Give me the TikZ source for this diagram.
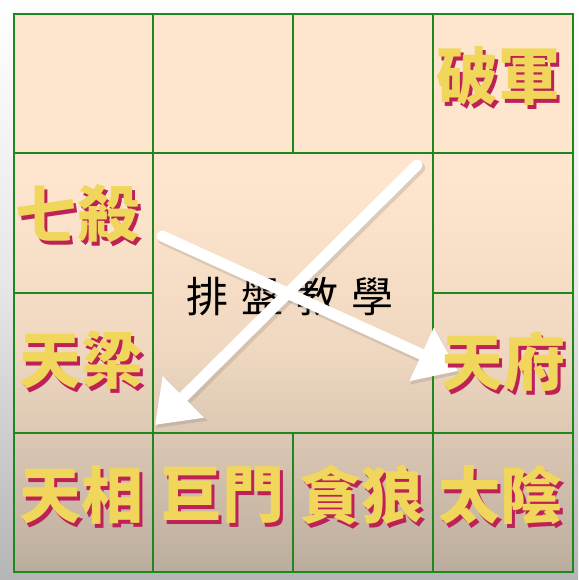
\documentclass[tikz,border=0pt]{standalone}
\usepackage{fontspec}
\newfontfamily\cjk{Noto Sans CJK TC}
\usetikzlibrary{arrows.meta}
\definecolor{gridgreen}{HTML}{1E871E}
\definecolor{bgtop}{HTML}{FDE6CD}
\definecolor{bgmid}{HTML}{F0D8C0}
\definecolor{bgbot}{HTML}{BBAD9E}
\definecolor{starY}{HTML}{F0D65A}
\definecolor{starM}{HTML}{BE2158}
\definecolor{mtop}{HTML}{FFFFFF}
\definecolor{mmid}{HTML}{E6E6E6}
\definecolor{mbot}{HTML}{B5B5B5}
\pgfdeclareverticalshading{gridbg}{100bp}{color(0bp)=(bgbot); color(25bp)=(bgbot); color(45bp)=(bgmid); color(60bp)=(bgtop); color(100bp)=(bgtop)}
\pgfdeclareverticalshading{marginbg}{100bp}{color(0bp)=(mbot); color(25bp)=(mbot); color(50bp)=(mmid); color(75bp)=(mtop); color(100bp)=(mtop)}
\tikzset{
  gridline/.style={draw=gridgreen, line width=1.8pt},
  starlabel/.style={inner sep=0pt, text=starY, font=\cjk\bfseries\fontsize{62}{62}\selectfont},
  titlelabel/.style={inner sep=0pt, text=black, font=\cjk\fontsize{42}{42}\selectfont},
  bigarrow/.style={draw=white, line width=11pt, line cap=round, -{Triangle[length=40pt,width=56pt]}},
  arrowshade/.style={draw=black!55, opacity=0.22, line width=12pt, line cap=round, -{Triangle[length=41pt,width=58pt]}, transform canvas={shift={(2pt,-3pt)}}}
}
\newcommand{\shadowtext}[1]{\rlap{\hspace*{3pt}\raisebox{-4pt}[0pt][0pt]{\textcolor{starM}{#1}}}#1}
\begin{document}
\begin{tikzpicture}[x=1pt,y=1pt]
\useasboundingbox (0,0) rectangle (578,580);
% backgrounds
\shade[shading=marginbg] (0,0) rectangle (578,580);
\shade[shading=gridbg] (14,8) rectangle (573,566);
% grid
\draw[gridline] (14,8) rectangle (573,566);
\draw[gridline] (153,8) -- (153,566);
\draw[gridline] (433,8) -- (433,566);
\draw[gridline] (14,427) -- (573,427);
\draw[gridline] (14,147) -- (573,147);
\draw[gridline] (293,566) -- (293,427);
\draw[gridline] (293,147) -- (293,8);
\draw[gridline] (14,287) -- (153,287);
\draw[gridline] (433,287) -- (573,287);
% title
\node[titlelabel] (title) at (290,283) {排\hspace{13pt}盤\hspace{13pt}教\hspace{13pt}學};
% arrows
\coordinate (a1s) at (162,344);
\coordinate (a1e) at (458,209);
\coordinate (a2s) at (417,415);
\coordinate (a2e) at (155,155);
\draw[arrowshade] (a1s) -- (a1e);
\draw[arrowshade] (a2s) -- (a2e);
\draw[bigarrow] (a1s) -- (a1e);
\draw[bigarrow] (a2s) -- (a2e);
% stars
\node[starlabel] (pojun) at (498,504) {\shadowtext{破軍}};
\node[starlabel] (qisha) at (77,366) {\shadowtext{七殺}};
\node[starlabel] (tianliang) at (81,220) {\shadowtext{天梁}};
\node[starlabel] (tianfu) at (503,218) {\shadowtext{天府}};
\node[starlabel] (tianxiang) at (81,85) {\shadowtext{天相}};
\node[starlabel] (jumen) at (222,85) {\shadowtext{巨門}};
\node[starlabel] (tanlang) at (361,85) {\shadowtext{貪狼}};
\node[starlabel] (taiyin) at (500,85) {\shadowtext{太陰}};
\end{tikzpicture}
\end{document}
